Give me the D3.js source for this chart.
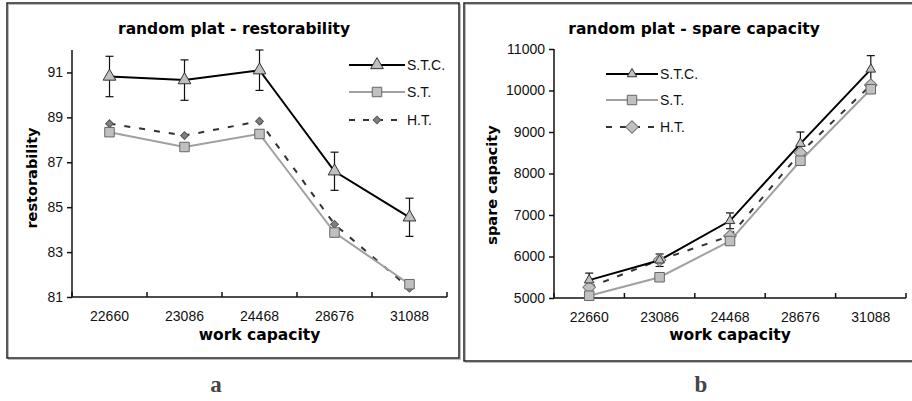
<!DOCTYPE html>
<html>
<head>
<meta charset="utf-8">
<script src="https://cdn.jsdelivr.net/npm/d3@7"></script>
<style>
  body { margin: 0; background: #fff; }
  svg { display: block; }
  .tick text { font-family: "Liberation Sans", Arial, sans-serif; font-size: 14px; fill: #111; }
</style>
</head>
<body>
<script>
const width = 912
const height = 401

const categories = ["22660", "23086", "24468", "28676", "31088"]
const seriesNames = ["S.T.C.", "S.T.", "H.T."]

// panel a - restorability
const restSTC = [90.82, 90.66, 91.1, 86.6, 84.55]
const restSTCerr = [0.9, 0.9, 0.9, 0.85, 0.85]
const restST = [88.34, 87.68, 88.26, 83.87, 81.57]
const restHT = [88.72, 88.19, 88.83, 84.24, 81.39]
const restTicks = [81, 83, 85, 87, 89, 91]

// panel b - spare capacity
const spareSTC = [5430, 5910, 6860, 8720, 10510]
const spareSTCerr = [170, 150, 190, 280, 330]
const spareST = [5055, 5500, 6373, 8308, 10030]
const spareHT = [5258, 5916, 6494, 8500, 10130]
const spareTicks = [5000, 6000, 7000, 8000, 9000, 10000, 11000]

const svg = d3.select('body').append('svg')
    .attr('width', width)
    .attr('height', height)

// frames
const frames = [
    {x: 7, y: 3, w: 452, h: 355},
    {x: 464, y: 3, w: 460, h: 358}
]
frames.forEach(f => {
    svg.append('rect')
        .attr('x', f.x + 1.5).attr('y', f.y + 1.5).attr('width', f.w).attr('height', f.h)
        .attr('fill', 'none').attr('stroke', '#bbb').attr('stroke-width', 1)
    svg.append('rect')
        .attr('x', f.x).attr('y', f.y).attr('width', f.w).attr('height', f.h)
        .attr('fill', 'none').attr('stroke', '#222').attr('stroke-width', 1.5)
})

const sym = (type, size) => d3.symbol().type(type).size(size)()

function panel(cfg) {
    const g = svg.append('g')
    const x = d3.scaleBand().domain(categories).range([cfg.x0, cfg.x1])
    const y = d3.scaleLinear().domain(cfg.yDomain).range([cfg.y0, cfg.y1])
    const cx = c => x(c) + x.bandwidth() / 2

    // y axis
    const ya = g.append('g')
        .attr('transform', `translate(${cfg.x0},0)`)
        .call(d3.axisLeft(y).tickValues(cfg.ticks).tickSize(5).tickPadding(4).tickFormat(d3.format('d')))
    ya.select('.domain').attr('stroke', '#111').attr('stroke-width', 1.5).attr('d', `M-0,${cfg.y0}V${cfg.y1}`)
    ya.selectAll('.tick line').attr('stroke', '#111').attr('stroke-width', 1.5)

    // x axis
    const xa = g.append('g')
        .attr('transform', `translate(0,${cfg.y0})`)
        .call(d3.axisBottom(x).tickSize(0).tickPadding(14))
    xa.select('.domain').attr('stroke', '#111').attr('stroke-width', 1.5).attr('d', `M${cfg.x0},0H${cfg.x1}`)
    xa.selectAll('.xt').data(d3.range(categories.length + 1)).enter().append('line')
        .attr('x1', i => cfg.x0 + i * x.bandwidth()).attr('x2', i => cfg.x0 + i * x.bandwidth())
        .attr('y1', 0).attr('y2', -5)
        .attr('stroke', '#111').attr('stroke-width', 1.5)

    // titles
    g.append('text')
        .attr('x', cfg.titleX).attr('y', 34)
        .attr('text-anchor', 'middle')
        .style('font-family', '"DejaVu Sans", Verdana, sans-serif')
        .style('font-weight', 'bold').style('font-size', '15.5px')
        .text(cfg.title)
    g.append('text')
        .attr('x', (cfg.x0 + cfg.x1) / 2).attr('y', 340)
        .attr('text-anchor', 'middle')
        .style('font-family', '"DejaVu Sans", Verdana, sans-serif')
        .style('font-weight', 'bold').style('font-size', '15.5px')
        .text('work capacity')
    g.append('text')
        .attr('transform', `translate(${cfg.yTitleX},${cfg.yTitleY}) rotate(-90)`)
        .attr('text-anchor', 'middle')
        .style('font-family', '"DejaVu Sans", Verdana, sans-serif')
        .style('font-weight', 'bold').style('font-size', '14.5px')
        .text(cfg.yTitle)

    const line = d3.line().x((d, i) => cx(categories[i])).y(d => y(d))

    // H.T. dashed
    g.append('path').datum(cfg.ht).attr('d', line)
        .attr('fill', 'none').attr('stroke', '#333').attr('stroke-width', 2)
        .attr('stroke-dasharray', '6,9')
    // S.T. gray
    g.append('path').datum(cfg.st).attr('d', line)
        .attr('fill', 'none').attr('stroke', '#a0a0a0').attr('stroke-width', 2)
    // S.T.C. black
    g.append('path').datum(cfg.stc).attr('d', line)
        .attr('fill', 'none').attr('stroke', '#000').attr('stroke-width', 2)

    // error bars
    const eb = g.selectAll('.eb').data(cfg.stc).enter().append('g')
    eb.append('line')
        .attr('x1', (d, i) => cx(categories[i])).attr('x2', (d, i) => cx(categories[i]))
        .attr('y1', (d, i) => y(d - cfg.err[i])).attr('y2', (d, i) => y(d + cfg.err[i]))
        .attr('stroke', '#111').attr('stroke-width', 1.2)
    ;[-1, 1].forEach(s => {
        eb.append('line')
            .attr('x1', (d, i) => cx(categories[i]) - 4).attr('x2', (d, i) => cx(categories[i]) + 4)
            .attr('y1', (d, i) => y(d + s * cfg.err[i])).attr('y2', (d, i) => y(d + s * cfg.err[i]))
            .attr('stroke', '#111').attr('stroke-width', 1.2)
    })

    // markers (diamond = square turned 45deg)
    const drawMarkers = (data, m) => {
        g.selectAll(null).data(data).enter().append('path')
            .attr('d', sym(m.type, m.size))
            .attr('transform', (d, i) => `translate(${cx(categories[i])},${y(d)}) rotate(${m.rot || 0})`)
            .attr('fill', m.fill).attr('stroke', m.stroke).attr('stroke-width', 1)
    }
    drawMarkers(cfg.ht, cfg.mHT)
    drawMarkers(cfg.st, cfg.mST)
    drawMarkers(cfg.stc, cfg.mSTC)

    // legend
    const lg = g.append('g')
    const styles = [
        {stroke: '#000', dash: null, m: cfg.mSTC},
        {stroke: '#a0a0a0', dash: null, m: cfg.mST},
        {stroke: '#333', dash: '6,8', m: cfg.mHT}
    ]
    seriesNames.forEach((name, i) => {
        const ly = cfg.legY[i]
        const s = styles[i]
        lg.append('line')
            .attr('x1', cfg.legX0).attr('x2', cfg.legX1).attr('y1', ly).attr('y2', ly)
            .attr('stroke', s.stroke).attr('stroke-width', 2)
            .attr('stroke-dasharray', s.dash)
        lg.append('path').attr('d', sym(s.m.type, s.m.size))
            .attr('transform', `translate(${(cfg.legX0 + cfg.legX1) / 2},${ly}) rotate(${s.m.rot || 0})`)
            .attr('fill', s.m.fill).attr('stroke', s.m.stroke).attr('stroke-width', 1)
        lg.append('text')
            .attr('x', cfg.legX1 + 2).attr('y', ly + 5)
            .style('font-family', '"Liberation Sans", Arial, sans-serif')
            .style('font-size', '14px').attr('fill', '#111')
            .text(name)
    })
}

panel({
    x0: 72, x1: 447, y0: 297, y1: 50,
    yDomain: [81, 92], ticks: restTicks,
    stc: restSTC, err: restSTCerr, st: restST, ht: restHT,
    title: 'random plat - restorability', titleX: 234,
    yTitle: 'restorability', yTitleX: 37, yTitleY: 178,
    mSTC: {type: d3.symbolTriangle, size: 70, fill: '#c0c0c0', stroke: '#333'},
    mST: {type: d3.symbolSquare, size: 90, fill: '#c0c0c0', stroke: '#666'},
    mHT: {type: d3.symbolSquare, size: 30, rot: 45, fill: '#808080', stroke: '#555'},
    legX0: 349, legX1: 405, legY: [65, 92, 120]
})

panel({
    x0: 554, x1: 906, y0: 298, y1: 49,
    yDomain: [5000, 11000], ticks: spareTicks,
    stc: spareSTC, err: spareSTCerr, st: spareST, ht: spareHT,
    title: 'random plat - spare capacity', titleX: 694,
    yTitle: 'spare capacity', yTitleX: 497, yTitleY: 185,
    mSTC: {type: d3.symbolTriangle, size: 40, fill: '#c0c0c0', stroke: '#333'},
    mST: {type: d3.symbolSquare, size: 90, fill: '#c0c0c0', stroke: '#666'},
    mHT: {type: d3.symbolSquare, size: 80, rot: 45, fill: '#c0c0c0', stroke: '#777'},
    legX0: 606, legX1: 658, legY: [74, 100, 127]
})

// panel labels
svg.selectAll('.plabel').data([{t: 'a', x: 216}, {t: 'b', x: 701}]).enter().append('text')
    .attr('x', d => d.x).attr('y', 392)
    .attr('text-anchor', 'middle')
    .style('font-family', '"Liberation Serif", "Times New Roman", serif')
    .style('font-weight', 'bold').style('font-size', '23px')
    .attr('fill', '#444')
    .text(d => d.t)
</script>
</body>
</html>
